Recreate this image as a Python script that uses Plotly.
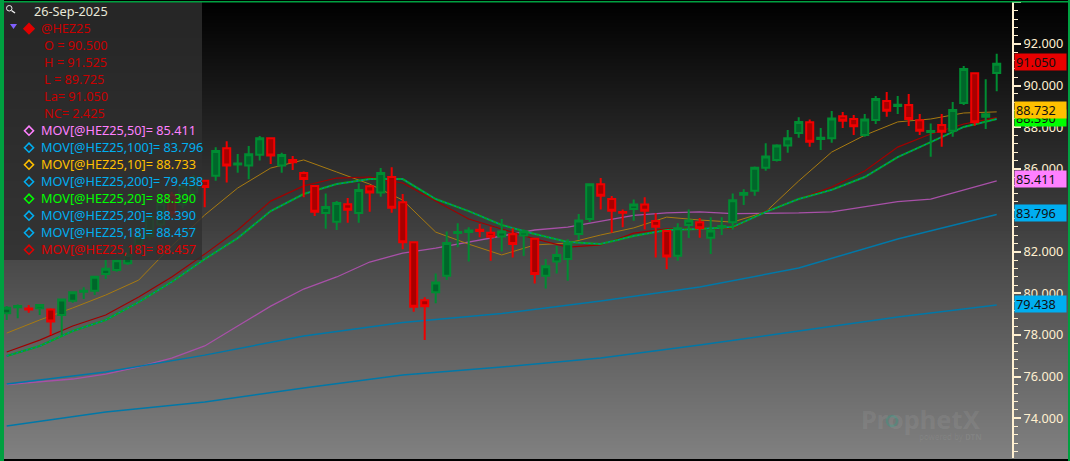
import plotly.graph_objects as go

W, H = 1070, 461
CANDLE_K = list(range(91))
OPEN = [79.04,79.33,79.27,79.28,79.23,78.96,79.65,80.08,80.13,80.93,81.12,81.45,82.33,82.76,83.32,84.73,84.28,84.85,85.42,85.66,
        86.98,86.20,86.15,86.67,87.46,86.15,86.42,85.79,85.17,83.87,83.45,84.29,83.87,85.15,84.86,85.60,84.38,82.46,79.67,80.05,
        80.85,82.90,82.95,83.06,82.92,82.74,82.84,82.78,82.63,80.85,81.53,81.65,82.86,83.58,85.25,84.54,83.92,84.06,84.28,83.48,
        83.00,81.81,83.29,83.42,82.68,83.19,83.42,84.75,84.94,86.05,86.42,87.11,87.72,88.23,87.43,87.46,88.52,88.39,87.62,88.34,
        89.26,89.02,89.06,88.33,87.77,88.10,87.83,89.16,90.59,88.50,90.60]
HIGH = [79.39,79.47,79.44,79.49,79.28,79.76,80.10,80.29,80.85,81.61,81.65,82.20,83.05,83.85,84.57,84.89,85.38,85.70,85.45,87.03,
        87.32,86.71,87.09,87.57,87.51,86.77,86.61,85.86,85.22,84.81,84.45,84.59,85.30,85.22,86.03,86.07,84.78,82.50,79.81,80.96,
        82.98,83.37,83.18,83.34,83.21,83.58,83.13,83.08,82.68,81.65,82.28,82.60,83.82,85.30,85.55,84.69,84.04,84.52,84.62,83.85,
        83.05,83.37,84.04,83.63,83.66,83.66,84.81,85.01,86.10,87.22,87.17,87.86,88.47,88.37,87.96,88.78,88.73,88.58,88.63,89.50,
        89.69,89.50,89.59,88.63,88.18,88.63,89.21,90.94,90.64,90.30,91.525]
LOW = [78.72,78.80,79.07,78.96,78.00,78.00,79.55,79.73,79.92,80.69,81.04,81.37,82.10,82.57,83.13,83.69,84.09,84.73,84.14,85.42,
       85.33,85.81,85.49,86.39,86.23,85.81,85.94,84.62,83.72,83.11,83.05,83.40,83.40,83.93,84.65,83.88,82.12,79.12,77.76,79.52,
       80.64,82.22,81.53,82.70,81.57,82.01,81.73,81.80,80.48,80.23,80.96,80.61,82.57,83.43,84.04,82.92,83.18,83.50,83.08,81.73,
       81.16,81.57,82.66,82.68,81.89,82.81,83.08,84.25,84.70,85.90,86.34,86.77,87.49,87.06,86.90,87.25,87.96,87.62,87.54,88.15,
       88.50,88.63,88.05,87.62,86.58,87.06,87.54,89.06,88.07,87.91,89.725]
CLOSE = [79.31,79.39,79.23,79.44,78.65,79.71,80.05,80.13,80.80,81.19,81.60,81.85,82.73,83.69,84.33,83.85,85.18,85.58,85.12,86.85,
         86.15,86.25,86.69,87.46,86.63,86.66,86.31,85.50,83.93,84.16,84.35,84.03,84.97,84.86,85.79,84.12,82.46,79.36,79.38,80.53,
         82.42,82.95,83.02,83.00,82.73,82.98,82.38,82.98,80.93,81.30,81.85,82.41,83.51,85.25,84.70,83.98,83.88,84.28,83.98,83.21,
         81.78,83.13,83.51,83.13,83.03,83.24,84.48,84.83,86.05,86.59,87.11,87.46,88.25,87.30,87.49,88.42,88.31,88.04,88.37,89.35,
         88.79,89.08,88.39,87.83,87.81,87.78,88.82,90.80,88.23,88.625,91.05]

MA_K = list(range(0, 91, 3))  # every third session
MOV_50 = [75.61,75.73,75.88,76.12,76.46,76.89,77.47,78.43,79.39,80.21,80.79,81.51,81.94,82.18,82.47,82.76,
          83.05,83.19,83.48,83.75,83.87,83.92,83.84,83.84,83.87,83.92,84.16,84.42,84.54,84.97,85.411]
MOV_10 = [78.09,78.72,79.30,79.92,80.64,82.28,83.77,85.07,86.03,86.42,85.84,85.26,84.49,82.95,82.37,81.85,
          82.33,82.42,82.81,83.15,83.67,83.53,83.43,83.92,85.41,86.80,87.61,88.25,88.39,88.68,88.733]
MOV_18 = [77.18,77.75,78.43,78.96,79.83,80.79,81.89,83.05,84.44,85.17,85.55,85.60,85.31,84.44,83.58,83.10,
          82.62,82.23,82.33,82.90,83.10,83.10,83.14,83.96,84.54,85.12,85.89,87.04,87.67,88.15,88.457]
MOV_20 = [76.99,77.47,78.19,78.72,79.58,80.55,81.65,82.66,83.96,84.78,85.26,85.50,85.50,84.54,83.96,83.29,
          82.86,82.47,82.38,82.76,83.05,83.10,83.19,83.92,84.54,84.98,85.60,86.56,87.28,88.01,88.390]
SLOW_K = [0, 9, 18, 27, 36, 45, 54, 63, 72, 81, 90]
MOV_100 = [75.64,76.22,77.03,77.95,78.60,79.03,79.63,80.31,81.22,82.62,83.796]
MOV_200 = [73.62,74.29,74.77,75.45,76.07,76.46,76.89,77.52,78.19,78.86,79.438]

TICKS_DTICK = 2
DATE = "26-Sep-2025"
QUOTE = ["@HEZ25", "O = 90.500", "H = 91.525", "L = 89.725", "La= 91.050", "NC= 2.425"]
MOV_ROWS = [("MOV[@HEZ25,50]= 85.411", "#ff80ff"), ("MOV[@HEZ25,100]= 83.796", "#00aef0"),
            ("MOV[@HEZ25,10]= 88.733", "#ffc000"), ("MOV[@HEZ25,200]= 79.438", "#00aef0"),
            ("MOV[@HEZ25,20]= 88.390", "#00ff00"), ("MOV[@HEZ25,20]= 88.390", "#00aef0"),
            ("MOV[@HEZ25,18]= 88.457", "#00aef0"), ("MOV[@HEZ25,18]= 88.457", "#e00000")]
PRICE_TAGS = [("88.390", 88.39, "#00ff00"), ("88.732", 88.732, "#ffc000"), ("91.050", 91.05, "#e80000"),
              ("85.411", 85.411, "#ff80ff"), ("83.796", 83.796, "#00aef0"), ("79.438", 79.438, "#00aef0")]

def px(x): return x / W
def py(y): return 1 - y / H

FONT = "Noto Sans"
FS = 12.7
fig = go.Figure()

# backdrop gradient
n = 128
fig.add_trace(go.Heatmap(z=[[i, i] for i in range(n)], x=[0, 1, 2], y=list(range(n + 1)),
                         colorscale=[[0, "#000000"], [1, "#808080"]], showscale=False,
                         hoverinfo="skip", xaxis="x", yaxis="y"))

# moving averages
fig.add_trace(go.Scatter(x=MA_K, y=MOV_50, mode="lines", line=dict(color="#a850a8", width=1.3), xaxis="x2", yaxis="y2"))
fig.add_trace(go.Scatter(x=SLOW_K, y=MOV_100, mode="lines", line=dict(color="#0078a8", width=1.5), xaxis="x2", yaxis="y2"))
fig.add_trace(go.Scatter(x=SLOW_K, y=MOV_200, mode="lines", line=dict(color="#0078a8", width=1.5), xaxis="x2", yaxis="y2"))
fig.add_trace(go.Scatter(x=MA_K, y=MOV_10, mode="lines", line=dict(color="#a87a10", width=1), xaxis="x2", yaxis="y2"))
fig.add_trace(go.Scatter(x=MA_K, y=MOV_18, mode="lines", line=dict(color="#a00000", width=1.2), xaxis="x2", yaxis="y2"))
fig.add_trace(go.Scatter(x=MA_K, y=MOV_20, mode="lines", line=dict(color="#00a820", width=2), xaxis="x2", yaxis="y2"))
fig.add_trace(go.Scatter(x=MA_K, y=MOV_20, mode="lines", line=dict(color="#0080a8", width=1.2, dash="2px,3px"), xaxis="x2", yaxis="y2"))

# candles
fig.add_trace(go.Candlestick(x=CANDLE_K, open=OPEN, high=HIGH, low=LOW, close=CLOSE,
                             increasing=dict(line=dict(color="#008c32", width=2), fillcolor="#00662a"),
                             decreasing=dict(line=dict(color="#f00000", width=2), fillcolor="#a80000"),
                             whiskerwidth=0, xaxis="x3", yaxis="y3", hoverinfo="skip"))

YR = [72.08, 94.02]
XR = [-0.245, 91.39]
dom_x = [px(4), px(1012)]
dom_y = [py(458), py(2)]

shapes = [
    dict(type="rect", xref="paper", yref="paper", x0=px(4), x1=px(202), y0=py(260), y1=py(2),
         fillcolor="rgba(47,47,47,0.8)", line=dict(width=0), layer="above"),
    dict(type="rect", xref="paper", yref="paper", x0=0, x1=px(4), y0=0, y1=1, fillcolor="#00a040", line=dict(width=0), layer="above"),
    dict(type="rect", xref="paper", yref="paper", x0=0, x1=1, y0=py(2.5), y1=py(1), fillcolor="#00a040", line=dict(width=0), layer="above"),
    dict(type="rect", xref="paper", yref="paper", x0=px(1068), x1=1, y0=0, y1=1, fillcolor="#00a040", line=dict(width=0), layer="above"),
]

def diamond(cx, cy, r, color, solid=False):
    path = f"M {px(cx-r)} {py(cy)} L {px(cx)} {py(cy-r)} L {px(cx+r)} {py(cy)} L {px(cx)} {py(cy+r)} Z"
    return dict(type="path", xref="paper", yref="paper", path=path, layer="above",
                fillcolor=color if solid else "rgba(0,0,0,0)", line=dict(color=color, width=1.6))

shapes.append(diamond(29, 28.7, 5, "#e00000", True))
for i, (_, c) in enumerate(MOV_ROWS):
    shapes.append(diamond(29, 130.7 + 17 * i, 4.5, c))
# triangle marker
shapes.append(dict(type="path", xref="paper", yref="paper", layer="above",
                   path=f"M {px(10)} {py(24)} L {px(17)} {py(24)} L {px(13.5)} {py(29)} Z",
                   fillcolor="#8060ff", line=dict(width=0)))
# magnifier
shapes.append(dict(type="circle", xref="paper", yref="paper", layer="above", x0=px(6.5), x1=px(12), y0=py(11), y1=py(5.5),
                   fillcolor="rgba(0,0,0,0)", line=dict(color="#f0f0f0", width=1)))
shapes.append(dict(type="line", xref="paper", yref="paper", layer="above", x0=px(11.5), x1=px(15), y0=py(10.5), y1=py(13),
                   line=dict(color="#f0f0f0", width=1.5)))
# watermark ring
shapes.append(dict(type="circle", xref="paper", yref="paper", layer="above", x0=px(887), x1=px(897), y0=py(426), y1=py(416),
                   fillcolor="rgba(0,0,0,0)", line=dict(color="rgba(60,150,130,0.45)", width=2.5)))

ann = []
def label(x, y, text, color, size=FS, family=FONT, **kw):
    ann.append(dict(xref="paper", yref="paper", x=px(x), y=py(y), text=text, showarrow=False,
                    xanchor="left", yanchor="middle", font=dict(family=family, size=size, color=color), **kw))

label(32, 10.7, DATE, "#e8e8d8")
label(39, 27.7, QUOTE[0], "#c80000")
for i, t in enumerate(QUOTE[1:]):
    label(42, 44.7 + 17 * i, t, "#c80000")
for i, (t, c) in enumerate(MOV_ROWS):
    label(38.5, 129.7 + 17 * i, t, c)

# price tags
for t, v, c in PRICE_TAGS:
    ann.append(dict(xref="paper", yref="y2", x=px(1014), y=v, yshift=1.5, text=t, showarrow=False, xanchor="left", yanchor="middle",
                    width=49, height=14, align="left", bgcolor=c, borderpad=1,
                    font=dict(family=FONT, size=FS, color="#101010")))

# watermark
label(859, 419, "<b>ProphetX</b>", "rgba(255,255,255,0.08)", size=25.5)
label(917, 436, "powered by <b>DTN</b>", "rgba(255,255,255,0.07)", size=8)

fig.update_layout(
    width=W, height=H, autosize=False,
    margin=dict(l=0, r=0, t=0, b=0, pad=0),
    paper_bgcolor="#000000", plot_bgcolor="rgba(0,0,0,0)",
    showlegend=False, boxgap=0.36, boxgroupgap=0,
    xaxis=dict(domain=[px(4), px(1068)], range=[0, 2], visible=False, fixedrange=True),
    yaxis=dict(domain=[py(459), py(2)], range=[n, 0], visible=False, fixedrange=True),
    xaxis2=dict(domain=dom_x, range=XR, visible=False, anchor="y2"),
    yaxis2=dict(domain=dom_y, range=YR, anchor="x2", side="right", dtick=TICKS_DTICK, tick0=0, tickformat=".3f",
                showgrid=False, zeroline=False, showline=True, linecolor="#fff0d0", linewidth=2,
                ticks="outside", ticklen=7, tickwidth=1.5, tickcolor="#fff0d0",
                minor=dict(dtick=0.4, tick0=0, ticks="outside", ticklen=4, tickwidth=1, tickcolor="#fff0d0", showgrid=False),
                tickfont=dict(family=FONT, size=FS, color="#fff0d0")),
    xaxis3=dict(range=XR, visible=False, overlaying="x2", anchor="y3", rangeslider=dict(visible=False)),
    yaxis3=dict(range=YR, visible=False, overlaying="y2", anchor="x3"),
    shapes=shapes, annotations=ann,
)
fig.write_html("out.html", config=dict(displayModeBar=False),
               post_script="document.body.style.margin='0';document.body.style.background='#000';")
